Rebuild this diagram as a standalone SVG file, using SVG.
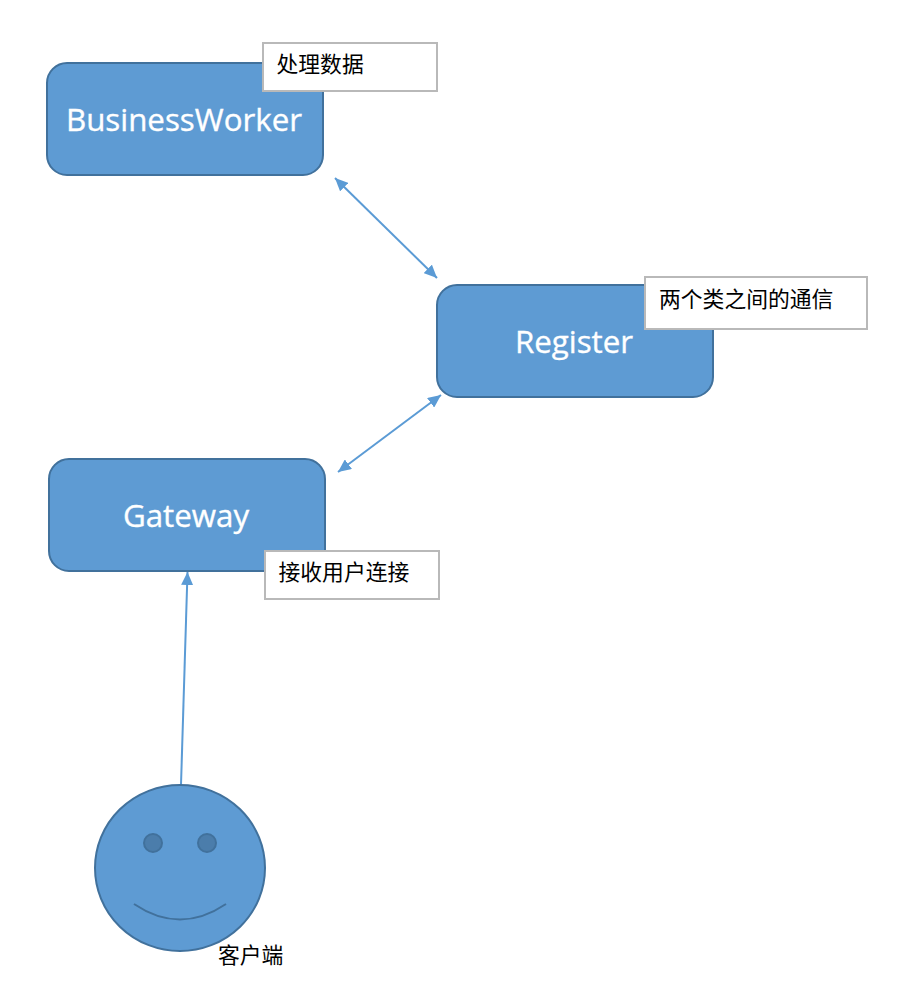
<svg xmlns="http://www.w3.org/2000/svg" width="902" height="998" viewBox="0 0 902 998">
<style>
.box{fill:#5e9bd3;stroke:#41719c;stroke-width:2}
.title{font-family:"Open Sans","Noto Sans",sans-serif;font-size:31.3px;fill:#fff;stroke:#fff;stroke-width:.35;text-anchor:middle}
.note{fill:#fff;stroke:#b9b9b9;stroke-width:2}
.cjk{font-family:"Noto Sans CJK SC",sans-serif;font-size:21.8px;fill:#000}
.conn{fill:none;stroke:#5b9bd5;stroke-width:2}
.ah{fill:#5b9bd5}
</style>
<defs>
<marker id="arr" markerUnits="userSpaceOnUse" markerWidth="14" markerHeight="12" refX="13" refY="6" orient="auto-start-reverse"><path class="ah" d="M0 0L13 6L0 12Z"/></marker>
</defs>
<rect width="902" height="998" fill="#fff"/>
<g id="connectors">
<line class="conn" x1="335" y1="178" x2="437" y2="278" marker-start="url(#arr)" marker-end="url(#arr)"/>
<line class="conn" x1="441" y1="395" x2="338" y2="472" marker-start="url(#arr)" marker-end="url(#arr)"/>
<line class="conn" x1="181" y1="785" x2="187.500" y2="572" marker-end="url(#arr)"/>
</g>
<g id="businessworker">
<rect class="box" x="47" y="63" width="276" height="112" rx="20"/>
<text class="title" x="184" y="131">BusinessWorker</text>
</g>
<g id="note-business">
<rect class="note" x="263" y="43" width="174" height="48"/>
<text class="cjk" x="276.500" y="72">处理数据</text>
</g>
<g id="register">
<rect class="box" x="437" y="285" width="276" height="112" rx="20"/>
<text class="title" x="574" y="353">Register</text>
</g>
<g id="note-register">
<rect class="note" x="645" y="277" width="222" height="52"/>
<text class="cjk" x="659" y="307">两个类之间的通信</text>
</g>
<g id="gateway">
<rect class="box" x="49" y="459" width="276" height="112" rx="20"/>
<text class="title" x="186" y="527">Gateway</text>
</g>
<g id="note-gateway">
<rect class="note" x="265" y="551" width="174" height="48"/>
<text class="cjk" x="278.500" y="580">接收用户连接</text>
</g>
<g id="client">
<ellipse class="box" cx="180" cy="868" rx="85" ry="83"/>
<circle cx="153" cy="843" r="9" fill="#4b7dab" stroke="#41719c" stroke-width="2"/>
<circle cx="207" cy="843" r="9" fill="#4b7dab" stroke="#41719c" stroke-width="2"/>
<path d="M134 904Q180 935 226 904" fill="none" stroke="#41719c" stroke-width="2"/>
<text class="cjk" x="218" y="963">客户端</text>
</g>
</svg>
